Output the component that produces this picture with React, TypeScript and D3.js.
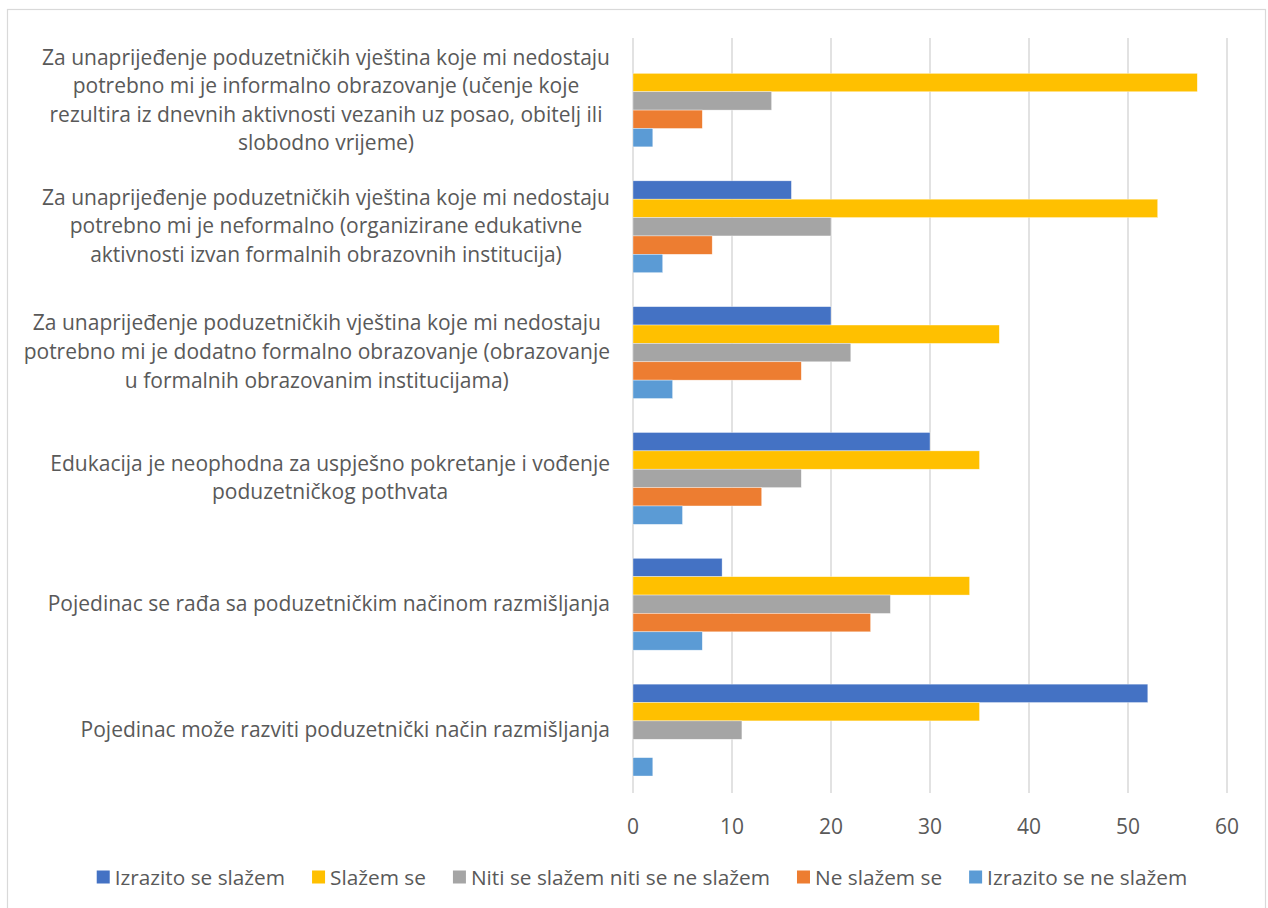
import React, { useMemo } from 'react';
import * as d3 from 'd3';

const categories = [
  'informalno',
  'neformalno',
  'formalno',
  'edukacija',
  'rada',
  'razviti',
];

const categoryLines: string[][] = [
  [
    'Za unaprijeđenje poduzetničkih vještina koje mi nedostaju',
    'potrebno mi je informalno obrazovanje (učenje koje',
    'rezultira iz dnevnih aktivnosti vezanih uz posao, obitelj ili',
    'slobodno vrijeme)',
  ],
  [
    'Za unaprijeđenje poduzetničkih vještina koje mi nedostaju',
    'potrebno mi je neformalno (organizirane edukativne',
    'aktivnosti izvan formalnih obrazovnih institucija)',
  ],
  [
    'Za unaprijeđenje poduzetničkih vještina koje mi nedostaju',
    'potrebno mi je dodatno formalno obrazovanje (obrazovanje',
    'u formalnih obrazovanim institucijama)',
  ],
  [
    'Edukacija je neophodna za uspješno pokretanje i vođenje',
    'poduzetničkog pothvata',
  ],
  ['Pojedinac se rađa sa poduzetničkim načinom razmišljanja'],
  ['Pojedinac može razviti poduzetnički način razmišljanja'],
];

const seriesNames = [
  'Izrazito se slažem',
  'Slažem se',
  'Niti se slažem niti se ne slažem',
  'Ne slažem se',
  'Izrazito se ne slažem',
];
const seriesColors = ['#4472C4', '#FFC000', '#A5A5A5', '#ED7D31', '#5B9BD5'];

const izrazitoSeSlazem = [0, 16, 20, 30, 9, 52];
const slazemSe = [57, 53, 37, 35, 34, 35];
const nitiNiti = [14, 20, 22, 17, 26, 11];
const neSlazemSe = [7, 8, 17, 13, 24, 0];
const izrazitoSeNeSlazem = [2, 3, 4, 5, 7, 2];

const seriesValues = [izrazitoSeSlazem, slazemSe, nitiNiti, neSlazemSe, izrazitoSeNeSlazem];

const xTicks = [0, 10, 20, 30, 40, 50, 60];

const W = 1268;
const H = 908;
const FONT_FAMILY = "'Open Sans', sans-serif";
const LABEL_SIZE = 21;
const LEGEND_SIZE = 20.8;
const TEXT_COLOR = '#595959';

function measure(text: string, size: number): number {
  const c = document.createElement('canvas');
  const ctx = c.getContext('2d')!;
  ctx.font = `${size}px ${FONT_FAMILY}`;
  return ctx.measureText(text).width;
}

export default function App() {
  const plot = { left: 633, right: 1227, top: 38, bottom: 793 };

  const x = d3.scaleLinear().domain([0, 60]).range([plot.left, plot.right]);
  const y = d3
    .scaleBand<string>()
    .domain(categories)
    .range([plot.top, plot.bottom])
    .paddingInner(0.27)
    .paddingOuter(0.135);
  const ys = d3.scaleBand<string>().domain(seriesNames).range([0, y.bandwidth()]);

  const labelRight = 610;
  const lineHeight = 28.6;

  const labelBlocks = useMemo(
    () =>
      categoryLines.map((lines) => {
        const maxW = Math.max(...lines.map((l) => measure(l, LABEL_SIZE)));
        return { lines, cx: labelRight - maxW / 2 };
      }),
    []
  );

  const legendItems = useMemo(() => {
    const sq = 13;
    const gap = 5;
    const spacing = 27;
    const widths = seriesNames.map((n) => measure(n, LEGEND_SIZE));
    const total =
      widths.reduce((a, w) => a + sq + gap + w, 0) + spacing * (seriesNames.length - 1);
    let cur = 642 - total / 2;
    return seriesNames.map((name, i) => {
      const item = { name, color: seriesColors[i], x: cur, tx: cur + sq + gap };
      cur += sq + gap + widths[i] + spacing;
      return item;
    });
  }, []);

  return (
    <svg
      width={W}
      height={H}
      style={{ position: 'absolute', left: 0, top: 0, background: '#fff' }}
      fontFamily={FONT_FAMILY}
      fontSize={LABEL_SIZE}
    >
      <rect x={0} y={0} width={W} height={H} fill="#fff" />
      <rect x={7.5} y={9.5} width={1258} height={920} fill="#fff" stroke="#D9D9D9" strokeWidth={1.2} />

      {/* gridlines */}
      {xTicks.map((t) => (
        <line
          key={`g${t}`}
          x1={x(t)}
          x2={x(t)}
          y1={plot.top}
          y2={plot.bottom}
          stroke="#D9D9D9"
          strokeWidth={1.5}
        />
      ))}

      {/* bars */}
      {categories.map((c, ci) => (
        <g key={c} transform={`translate(0,${y(c)})`}>
          {seriesNames.map((s, si) => {
            const v = seriesValues[si][ci];
            if (!v) return null;
            return (
              <rect
                key={s}
                x={x(0)}
                y={ys(s)}
                width={x(v) - x(0)}
                height={ys.bandwidth()}
                fill={seriesColors[si]}
                stroke="#ffffff"
                strokeOpacity={0.6}
                strokeWidth={0.6}
              />
            );
          })}
        </g>
      ))}

      {/* category labels */}
      {labelBlocks.map((b, ci) => {
        const cy = (y(categories[ci]) as number) + y.bandwidth() / 2 - 1.5;
        const n = b.lines.length;
        return (
          <text key={ci} fill={TEXT_COLOR} textAnchor="middle">
            {b.lines.map((ln, li) => (
              <tspan
                key={li}
                x={b.cx}
                y={cy + (li - (n - 1) / 2) * lineHeight}
                dominantBaseline="central"
              >
                {ln}
              </tspan>
            ))}
          </text>
        );
      })}

      {/* x tick labels */}
      {xTicks.map((t) => (
        <text
          key={`t${t}`}
          x={x(t)}
          y={826}
          fill={TEXT_COLOR}
          textAnchor="middle"
          dominantBaseline="central"
        >
          {t}
        </text>
      ))}

      {/* legend */}
      {legendItems.map((it) => (
        <g key={it.name}>
          <rect x={it.x} y={877 - 6.5} width={13} height={13} fill={it.color} />
          <text
            x={it.tx}
            y={877}
            fill={TEXT_COLOR}
            fontSize={LEGEND_SIZE}
            dominantBaseline="central"
          >
            {it.name}
          </text>
        </g>
      ))}
    </svg>
  );
}
